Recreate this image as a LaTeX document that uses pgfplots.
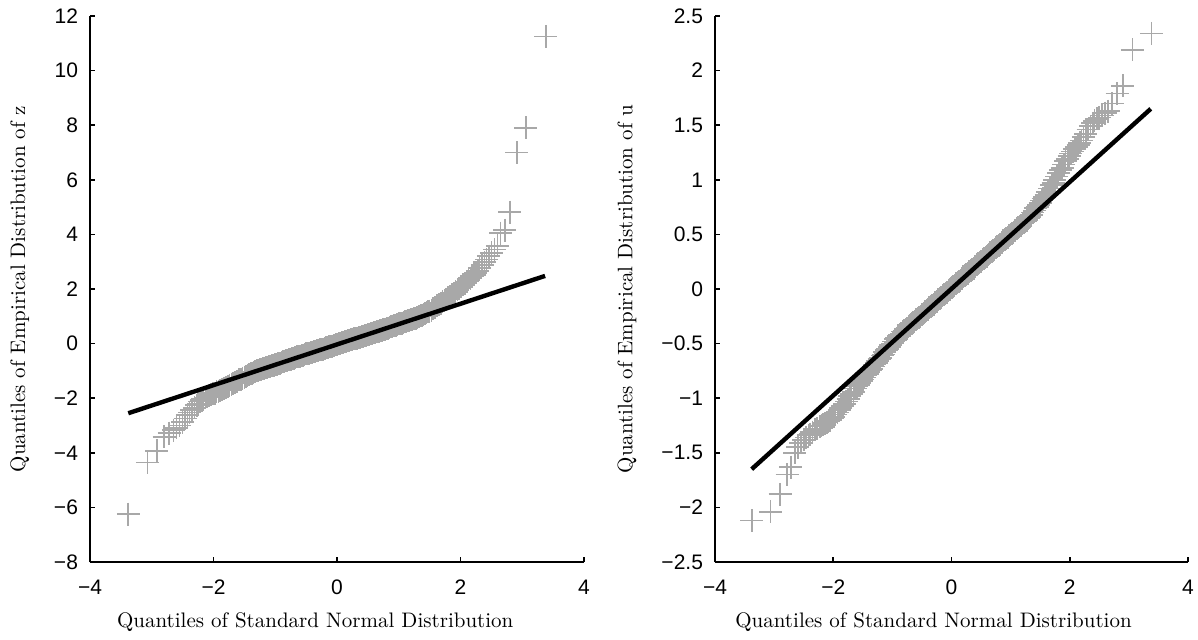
\documentclass[border=0pt]{standalone}
\usepackage{fontspec}
\usepackage{pgfplots}
\pgfplotsset{compat=1.18}
\usepackage{pgfplotstable}
\newfontfamily\arial{Liberation Sans}
\definecolor{qqgray}{RGB}{168,168,168}

\pgfplotstableread{
x y
-3.38 -6.25
-3.07 -4.35
-2.92 -3.93
-2.80 -3.42
-2.72 -3.28
-2.65 -3.17
-2.60 -3.08
-2.55 -3.00
-2.50 -2.88
-2.46 -2.74
-2.42 -2.62
-2.39 -2.52
-2.35 -2.43
-2.31 -2.35
-2.27 -2.25
-2.25 -2.20
-2.22 -2.12
-2.19 -2.07
-2.16 -2.03
-2.13 -1.99
-2.10 -1.95
-2.07 -1.91
-2.04 -1.88
-2.01 -1.84
-1.98 -1.81
-1.95 -1.77
-1.92 -1.74
-1.89 -1.70
-1.86 -1.67
-1.83 -1.63
-1.80 -1.60
-1.77 -1.56
-1.74 -1.52
-1.71 -1.48
-1.68 -1.45
-1.65 -1.41
-1.62 -1.37
-1.59 -1.33
-1.56 -1.30
-1.53 -1.26
-1.500 -1.23
-1.475 -1.19
-1.450 -1.16
-1.425 -1.14
-1.400 -1.11
-1.375 -1.08
-1.350 -1.05
-1.325 -1.03
-1.300 -1.00
-1.275 -0.98
-1.250 -0.96
-1.225 -0.94
-1.200 -0.92
-1.175 -0.91
-1.150 -0.89
-1.125 -0.87
-1.100 -0.85
-1.075 -0.83
-1.050 -0.81
-1.025 -0.79
-1.000 -0.78
-0.975 -0.76
-0.950 -0.74
-0.925 -0.72
-0.900 -0.69
-0.875 -0.66
-0.850 -0.64
-0.825 -0.62
-0.800 -0.61
-0.775 -0.59
-0.750 -0.57
-0.725 -0.55
-0.700 -0.53
-0.675 -0.51
-0.650 -0.49
-0.625 -0.48
-0.600 -0.46
-0.575 -0.44
-0.550 -0.42
-0.525 -0.40
-0.500 -0.38
-0.475 -0.36
-0.450 -0.35
-0.425 -0.33
-0.400 -0.31
-0.375 -0.29
-0.350 -0.28
-0.325 -0.27
-0.300 -0.25
-0.275 -0.23
-0.250 -0.22
-0.225 -0.20
-0.200 -0.18
-0.175 -0.16
-0.150 -0.14
-0.125 -0.12
-0.100 -0.10
-0.075 -0.09
-0.050 -0.07
-0.025 -0.05
0.000 -0.03
0.025 -0.01
0.050 0.01
0.075 0.03
0.100 0.04
0.125 0.06
0.150 0.08
0.175 0.10
0.200 0.12
0.225 0.14
0.250 0.16
0.275 0.17
0.300 0.18
0.325 0.20
0.350 0.21
0.375 0.23
0.400 0.25
0.425 0.27
0.450 0.29
0.475 0.30
0.500 0.32
0.525 0.34
0.550 0.36
0.575 0.38
0.600 0.40
0.625 0.42
0.650 0.43
0.675 0.45
0.700 0.47
0.725 0.49
0.750 0.51
0.775 0.53
0.800 0.55
0.825 0.57
0.850 0.59
0.875 0.62
0.900 0.64
0.925 0.66
0.950 0.68
0.975 0.70
1.000 0.72
1.025 0.73
1.050 0.75
1.075 0.77
1.100 0.80
1.125 0.82
1.150 0.84
1.175 0.86
1.200 0.87
1.225 0.89
1.250 0.91
1.275 0.93
1.300 0.96
1.325 0.99
1.350 1.02
1.375 1.04
1.400 1.07
1.425 1.10
1.450 1.13
1.475 1.16
1.500 1.19
1.53 1.23
1.56 1.28
1.59 1.33
1.62 1.38
1.65 1.43
1.68 1.48
1.71 1.53
1.74 1.58
1.77 1.63
1.80 1.68
1.83 1.73
1.86 1.79
1.89 1.85
1.92 1.91
1.95 1.97
1.98 2.03
2.01 2.09
2.04 2.15
2.07 2.21
2.10 2.27
2.13 2.33
2.16 2.40
2.19 2.46
2.22 2.52
2.25 2.59
2.28 2.66
2.31 2.76
2.35 2.88
2.39 2.98
2.42 3.08
2.46 3.20
2.50 3.32
2.55 3.45
2.60 3.58
2.65 4.05
2.72 4.16
2.80 4.82
2.91 7.00
3.06 7.90
3.38 11.25
}\zdata

\pgfplotstableread{
x y
-3.38 -2.12
-3.06 -2.04
-2.90 -1.88
-2.78 -1.70
-2.72 -1.63
-2.65 -1.50
-2.60 -1.45
-2.55 -1.41
-2.50 -1.38
-2.46 -1.36
-2.42 -1.34
-2.39 -1.33
-2.35 -1.31
-2.31 -1.29
-2.27 -1.28
-2.23 -1.26
-2.20 -1.25
-2.17 -1.24
-2.14 -1.23
-2.11 -1.22
-2.08 -1.21
-2.05 -1.20
-2.02 -1.18
-1.99 -1.17
-1.96 -1.15
-1.93 -1.13
-1.90 -1.11
-1.87 -1.09
-1.84 -1.07
-1.81 -1.05
-1.78 -1.03
-1.75 -1.01
-1.72 -0.98
-1.69 -0.96
-1.66 -0.94
-1.63 -0.91
-1.600 -0.89
-1.575 -0.88
-1.550 -0.86
-1.525 -0.84
-1.500 -0.83
-1.475 -0.81
-1.450 -0.79
-1.425 -0.78
-1.400 -0.76
-1.375 -0.74
-1.350 -0.73
-1.325 -0.71
-1.300 -0.69
-1.275 -0.68
-1.250 -0.66
-1.225 -0.64
-1.200 -0.63
-1.175 -0.61
-1.150 -0.60
-1.125 -0.58
-1.100 -0.56
-1.075 -0.55
-1.050 -0.53
-1.025 -0.51
-1.000 -0.50
-0.975 -0.48
-0.950 -0.46
-0.925 -0.45
-0.900 -0.43
-0.875 -0.42
-0.850 -0.41
-0.825 -0.39
-0.800 -0.38
-0.775 -0.37
-0.750 -0.36
-0.725 -0.34
-0.700 -0.33
-0.675 -0.32
-0.650 -0.31
-0.625 -0.30
-0.600 -0.28
-0.575 -0.27
-0.550 -0.26
-0.525 -0.25
-0.500 -0.23
-0.475 -0.22
-0.450 -0.21
-0.425 -0.20
-0.400 -0.19
-0.375 -0.17
-0.350 -0.16
-0.325 -0.15
-0.300 -0.14
-0.275 -0.12
-0.250 -0.11
-0.225 -0.10
-0.200 -0.09
-0.175 -0.08
-0.150 -0.06
-0.125 -0.05
-0.100 -0.04
-0.075 -0.03
-0.050 -0.01
-0.025 0.00
0.000 0.01
0.025 0.02
0.050 0.03
0.075 0.05
0.100 0.06
0.125 0.07
0.150 0.08
0.175 0.10
0.200 0.11
0.225 0.12
0.250 0.13
0.275 0.14
0.300 0.16
0.325 0.17
0.350 0.18
0.375 0.19
0.400 0.21
0.425 0.22
0.450 0.23
0.475 0.24
0.500 0.25
0.525 0.27
0.550 0.28
0.575 0.29
0.600 0.30
0.625 0.32
0.650 0.33
0.675 0.34
0.700 0.35
0.725 0.36
0.750 0.38
0.775 0.39
0.800 0.40
0.825 0.41
0.850 0.43
0.875 0.44
0.900 0.45
0.925 0.46
0.950 0.47
0.975 0.49
1.000 0.50
1.025 0.51
1.050 0.52
1.075 0.54
1.100 0.55
1.125 0.56
1.150 0.57
1.175 0.58
1.200 0.60
1.225 0.61
1.250 0.62
1.275 0.63
1.300 0.65
1.325 0.66
1.350 0.68
1.375 0.70
1.400 0.72
1.425 0.74
1.450 0.75
1.475 0.77
1.500 0.79
1.525 0.81
1.550 0.83
1.575 0.84
1.600 0.86
1.63 0.89
1.66 0.92
1.69 0.95
1.72 0.97
1.75 1.00
1.78 1.03
1.81 1.06
1.84 1.09
1.87 1.11
1.90 1.14
1.93 1.17
1.96 1.19
1.99 1.22
2.02 1.24
2.05 1.26
2.08 1.28
2.11 1.30
2.14 1.32
2.17 1.34
2.20 1.36
2.23 1.39
2.27 1.42
2.31 1.46
2.35 1.49
2.39 1.52
2.42 1.54
2.46 1.56
2.50 1.57
2.55 1.59
2.60 1.61
2.65 1.63
2.72 1.70
2.80 1.79
2.90 1.86
3.06 2.19
3.38 2.34
}\udata

\pgfplotsset{
  qqstyle/.style={
    scale only axis,
    set layers,
    height=273pt,
    axis lines=left,
    axis line style={-, line width=1pt},
    tick align=inside,
    major tick length=2.5pt,
    every tick/.style={black, line width=0.8pt},
    xmin=-4, xmax=4,
    xtick={-4,-2,0,2,4},
    xticklabels={−4,−2,0,2,4},
    tick label style={font=\arial\fontsize{10.5}{12}\selectfont},
    xticklabel style={yshift=-5.5pt},
    yticklabel style={xshift=-2.5pt},
    label style={font=\fontsize{10.5}{12}\selectfont},
    xlabel={Quantiles of Standard Normal Distribution},
    clip=false,
  },
  markstyle/.style={only marks, mark=+, mark size=5.75pt, color=qqgray, mark options={line width=0.85pt}},
  fitstyle/.style={black, line width=2.2pt, on layer=axis foreground},
}

\begin{document}
\begin{tikzpicture}
\begin{axis}[qqstyle,
  width=247pt,
  ymin=-8, ymax=12,
  ytick={-8,-6,-4,-2,0,2,4,6,8,10,12},
  yticklabels={−8,−6,−4,−2,0,2,4,6,8,10,12},
  xlabel style={at={(axis description cs:0.456,-0.093)}, anchor=north, inner sep=0pt},
  ylabel={Quantiles of Empirical Distribution of z},
  ylabel style={at={(axis description cs:-0.142,0.5)}, anchor=center, inner sep=0pt},
]
\addplot[markstyle] table[x=x,y=y] {\zdata};
\addplot[fitstyle] coordinates {(-3.38,-2.55) (3.37,2.48)};
\end{axis}
\begin{axis}[qqstyle,
  at={(312.5pt,0pt)},
  width=236.5pt,
  ymin=-2.5, ymax=2.5,
  ytick={-2.5,-2,-1.5,-1,-0.5,0,0.5,1,1.5,2,2.5},
  yticklabels={−2.5,−2,−1.5,−1,−0.5,0,0.5,1,1.5,2,2.5},
  xlabel style={at={(axis description cs:0.462,-0.093)}, anchor=north, inner sep=0pt},
  ylabel={Quantiles of Empirical Distribution of u},
  ylabel style={at={(axis description cs:-0.186,0.5)}, anchor=center, inner sep=0pt},
]
\addplot[markstyle] table[x=x,y=y] {\udata};
\addplot[fitstyle] coordinates {(-3.38,-1.65) (3.37,1.65)};
\end{axis}
\pgfresetboundingbox
\path[use as bounding box] (-45pt,-38.5pt) rectangle (554pt,281pt);
\end{tikzpicture}
\end{document}
